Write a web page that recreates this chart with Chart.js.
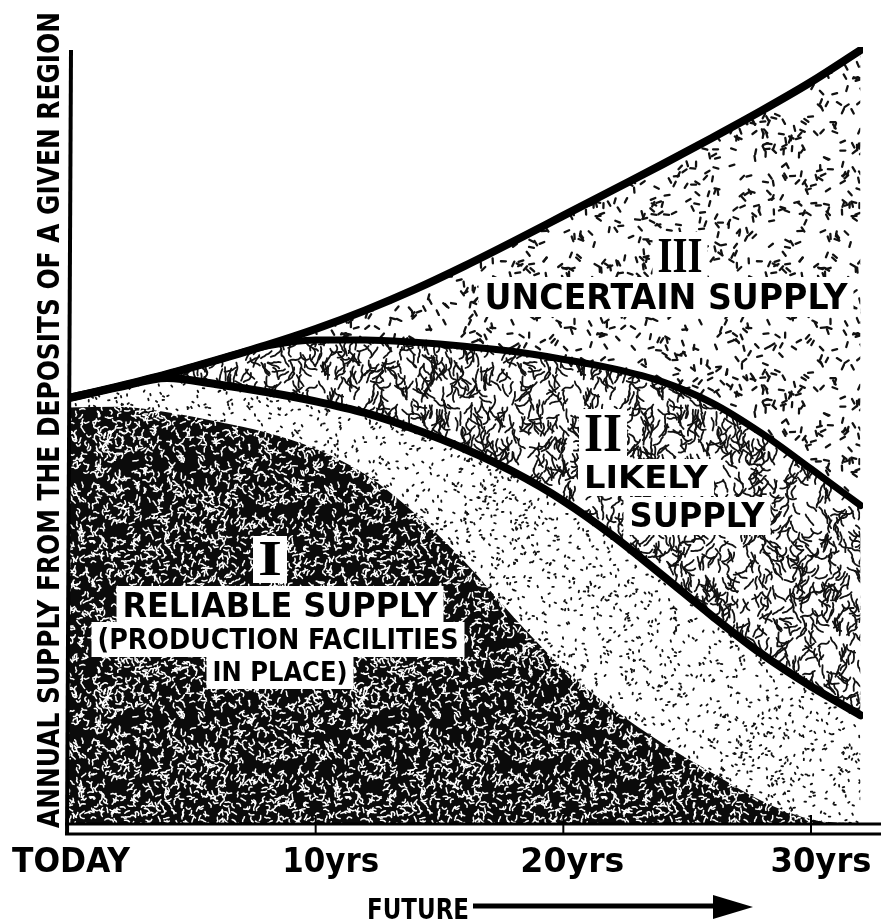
<!DOCTYPE html>
<html>
<head>
<meta charset="utf-8">
<title>Annual supply from the deposits of a given region</title>
<script src="https://cdn.jsdelivr.net/npm/chart.js@4.4.1/dist/chart.umd.min.js"></script>
<style>
  html, body { margin: 0; padding: 0; background: #fff; }
</style>
</head>
<body>
<canvas id="supplyChart" width="881" height="920"></canvas>
<script>
// years from today
const years = [0, 2, 4, 6, 8, 10, 12, 14, 16, 18, 20, 22, 24, 26, 28, 30, 32];
// upper edge of each band (0 = base line, 100 = top of the axis)
const inPlaceSupply   = [53.6, 53.7, 53.0, 51.8, 50.4, 48.3, 45.0, 40.0, 33.8, 26.6, 20.0, 14.8, 10.4, 6.6, 3.0, 0.6, 0];
const reliableSupply  = [54.8, 56.2, 57.4, 56.6, 55.6, 54.4, 52.9, 50.8, 48.3, 45.3, 41.6, 37.1, 32.0, 26.8, 21.9, 17.7, 14.0];
const likelySupply    = [54.8, 56.3, 57.9, 59.7, 61.5, 62.3, 62.3, 62.0, 61.5, 60.8, 59.8, 58.6, 56.9, 54.2, 50.3, 45.7, 41.0];
const uncertainSupply = [54.8, 56.3, 57.9, 59.7, 61.6, 63.7, 66.1, 68.8, 71.8, 75.0, 78.3, 81.6, 84.9, 88.3, 91.8, 95.5, 99.6];
const tickYears  = [0, 10, 20, 30];
const tickLabels = ['TODAY', '10yrs', '20yrs', '30yrs'];

const SANS = '"DejaVu Sans", "Open Sans", sans-serif';
const SERIF = '"Liberation Serif", "DejaVu Serif", serif';

// seeded noise, only used for the printed screen textures
function mulberry32(a) {
  return function () {
    a |= 0; a = a + 0x6D2B79F5 | 0;
    let t = Math.imul(a ^ a >>> 15, 1 | a);
    t = t + Math.imul(t ^ t >>> 7, 61 | t) ^ t;
    return ((t ^ t >>> 14) >>> 0) / 4294967296;
  };
}

function makeTexture(seed, o) {
  const size = 256;
  const c = document.createElement('canvas');
  c.width = c.height = size;
  const g = c.getContext('2d');
  g.fillStyle = o.paper;
  g.fillRect(0, 0, size, size);
  g.strokeStyle = o.ink;
  g.lineWidth = o.lineWidth;
  g.lineCap = 'round';
  g.lineJoin = 'round';
  const rand = mulberry32(seed);
  for (let i = 0; i < o.count; i++) {
    let x = rand() * size, y = rand() * size;
    let a = o.angle === undefined ? rand() * Math.PI * 2 : o.angle + (rand() - 0.5) * o.spread;
    const pts = [[x, y]];
    for (let s = 0; s < o.steps; s++) {
      a += (rand() - 0.5) * (o.wiggle || 0);
      x += Math.cos(a) * o.step;
      y += Math.sin(a) * o.step;
      pts.push([x, y]);
    }
    for (const dx of [-size, 0, size]) {
      for (const dy of [-size, 0, size]) {
        g.beginPath();
        pts.forEach(([px, py], k) => k ? g.lineTo(px + dx, py + dy) : g.moveTo(px + dx, py + dy));
        g.stroke();
      }
    }
  }
  return g.createPattern(c, 'repeat');
}

const darkScreen = makeTexture(11, { paper: '#0b0b0b', ink: '#fff', lineWidth: 1.5, count: 1900, steps: 3, step: 1.8, wiggle: 2.0 });
const dotScreen = makeTexture(23, { paper: '#fff', ink: '#111', lineWidth: 1.8, count: 1000, steps: 1, step: 1.6 });
const wormScreen = makeTexture(37, { paper: '#fff', ink: '#111', lineWidth: 1.8, count: 1050, steps: 6, step: 2.2, wiggle: 1.2, angle: Math.PI / 2, spread: 1.4 });
const dashScreen = makeTexture(53, { paper: '#fff', ink: '#111', lineWidth: 2.3, count: 600, steps: 1, step: 5 });

const toPoints = arr => years.map((yr, i) => ({ x: yr, y: arr[i] }));

// text labels painted over the bands
const areaLabels = [
  { text: 'I', x: 270, y: 575, cap: 33, w: 24, serif: true },
  { text: 'RELIABLE SUPPLY', x: 280, y: 617, cap: 25, w: 315 },
  { text: '(PRODUCTION FACILITIES', x: 278, y: 649, cap: 21, w: 361 },
  { text: 'IN PLACE)', x: 280, y: 681, cap: 20, w: 135 },
  { text: 'III', x: 680, y: 272, cap: 34, w: 45, serif: true },
  { text: 'UNCERTAIN SUPPLY', x: 666, y: 309, cap: 26, w: 363 },
  { text: 'II', x: 603, y: 451, cap: 36, w: 38, serif: true },
  { text: 'LIKELY', x: 646, y: 488, cap: 23, w: 124 },
  { text: 'SUPPLY', x: 697, y: 527, cap: 24, w: 135 }
];

function fitText(ctx, text, cx, baseline, px, family, width) {
  ctx.save();
  ctx.font = `bold ${px}px ${family}`;
  const w = ctx.measureText(text).width;
  ctx.translate(cx, baseline);
  ctx.scale(width / w, 1);
  ctx.textAlign = 'center';
  ctx.textBaseline = 'alphabetic';
  ctx.fillStyle = '#000';
  ctx.fillText(text, 0, 0);
  ctx.restore();
}

const labelPlugin = {
  id: 'areaLabels',
  afterDatasetsDraw(chart) {
    const ctx = chart.ctx;
    areaLabels.forEach(l => {
      const padX = l.serif ? 5 : 6, padY = 6;
      ctx.fillStyle = '#fff';
      ctx.fillRect(l.x - l.w / 2 - padX, l.y - l.cap - padY, l.w + padX * 2, l.cap + padY * 2 + 2);
    });
    areaLabels.forEach(l => {
      const px = l.serif ? l.cap / 0.66 : l.cap / 0.73;
      fitText(ctx, l.text, l.x, l.y, px, l.serif ? SERIF : SANS, l.w);
    });
  }
};

const axesPlugin = {
  id: 'drawnAxes',
  afterDraw(chart) {
    const ctx = chart.ctx;
    const x = chart.scales.x;
    const area = chart.chartArea;
    ctx.save();
    ctx.strokeStyle = '#000';
    ctx.lineCap = 'butt';

    // vertical axis
    ctx.lineWidth = 4;
    ctx.beginPath();
    ctx.moveTo(71, 50);
    ctx.lineTo(67, 835);
    ctx.stroke();

    // double base line
    ctx.lineWidth = 3;
    ctx.beginPath();
    ctx.moveTo(65, area.bottom);
    ctx.lineTo(881, area.bottom);
    ctx.moveTo(65, area.bottom + 10);
    ctx.lineTo(881, area.bottom + 10);
    ctx.stroke();

    // tick marks
    ctx.lineWidth = 2;
    tickYears.slice(1).forEach(v => {
      const px = x.getPixelForValue(v);
      ctx.beginPath();
      ctx.moveTo(px, area.bottom - 9);
      ctx.lineTo(px, area.bottom + 11);
      ctx.stroke();
    });

    // tick labels
    const shift = [3, 15, 9, 10];
    const widths = [118, 97, 104, 101];
    tickLabels.forEach((t, i) => {
      fitText(ctx, t, x.getPixelForValue(tickYears[i]) + shift[i], 872, 34, SANS, widths[i]);
    });

    // vertical title
    ctx.save();
    ctx.translate(59, 828);
    ctx.rotate(-Math.PI / 2);
    ctx.font = `bold 30px ${SANS}`;
    const title = 'ANNUAL SUPPLY FROM THE DEPOSITS OF A GIVEN REGION';
    const tw = ctx.measureText(title).width;
    ctx.scale(816 / tw, 1);
    ctx.textAlign = 'left';
    ctx.textBaseline = 'alphabetic';
    ctx.fillStyle = '#000';
    ctx.fillText(title, 0, 0);
    ctx.restore();

    // FUTURE arrow
    fitText(ctx, 'FUTURE', 418, 919, 29, SANS, 102);
    ctx.lineWidth = 5;
    ctx.beginPath();
    ctx.moveTo(473, 906);
    ctx.lineTo(720, 906);
    ctx.stroke();
    ctx.fillStyle = '#000';
    ctx.beginPath();
    ctx.moveTo(713, 895);
    ctx.lineTo(753, 907);
    ctx.lineTo(713, 919);
    ctx.closePath();
    ctx.fill();
    ctx.restore();
  }
};

new Chart(document.getElementById('supplyChart'), {
  type: 'line',
  data: {
    datasets: [
      {
        label: 'Production facilities in place',
        data: toPoints(inPlaceSupply),
        backgroundColor: darkScreen,
        borderWidth: 0,
        fill: 'origin'
      },
      {
        label: 'Reliable supply',
        data: toPoints(reliableSupply),
        backgroundColor: dotScreen,
        borderColor: '#000',
        borderWidth: 8,
        fill: '-1'
      },
      {
        label: 'Likely supply',
        data: toPoints(likelySupply),
        backgroundColor: wormScreen,
        borderColor: '#000',
        borderWidth: 7,
        fill: '-1'
      },
      {
        label: 'Uncertain supply',
        data: toPoints(uncertainSupply),
        backgroundColor: dashScreen,
        borderColor: '#000',
        borderWidth: 8,
        fill: '-1'
      }
    ]
  },
  options: {
    responsive: false,
    animation: false,
    layout: { padding: { left: 68, right: 18, top: 47, bottom: 96 } },
    scales: {
      x: { type: 'linear', min: 0, max: 32.1, display: false },
      y: { min: 0, max: 100, display: false }
    },
    elements: {
      point: { radius: 0, hoverRadius: 0 },
      line: { cubicInterpolationMode: 'monotone', borderCapStyle: 'round', borderJoinStyle: 'round' }
    },
    plugins: {
      legend: { display: false },
      tooltip: { enabled: false },
      filler: { drawTime: 'beforeDatasetsDraw' }
    }
  },
  plugins: [labelPlugin, axesPlugin]
});
</script>
</body>
</html>
